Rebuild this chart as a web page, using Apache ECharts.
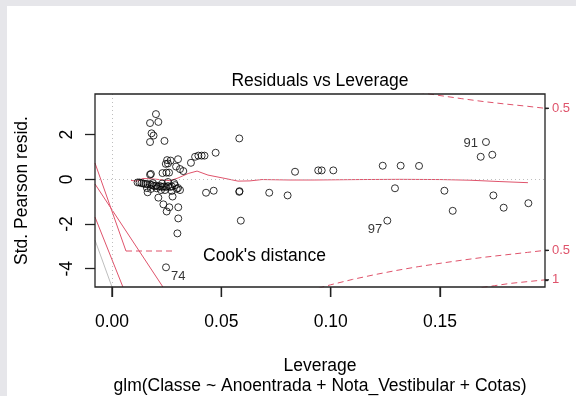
<!DOCTYPE html>
<html>
<head>
<meta charset="utf-8">
<script src="https://cdn.jsdelivr.net/npm/echarts@6/dist/echarts.min.js"></script>
<style>
html, body { margin: 0; padding: 0; background: #e6e6ea; overflow: hidden; }
#panel { position: absolute; left: 7px; top: 6px; width: 569px; height: 390px; background: #fff; }
#chart { position: absolute; left: 0; top: 0; width: 576px; height: 396px; }
</style>
</head>
<body>
<div id="panel"></div>
<div id="chart"></div>
<script>
// leverage (hat values) and standardized Pearson residuals
const leverage = [
  0.0201, 0.0174, 0.0212, 0.0181, 0.0190, 0.0174, 0.0240,
  0.0252, 0.0268, 0.0302, 0.0246, 0.0256, 0.0293, 0.0311, 0.0326, 0.0231, 0.0249, 0.0261, 0.0178, 0.0174,
  0.0361, 0.0380, 0.0395, 0.0410, 0.0423, 0.0474, 0.0582,
  0.0837, 0.0943, 0.0959, 0.1012, 0.1238, 0.1320, 0.1404, 0.1710, 0.1686, 0.1739,
  0.0430, 0.0465, 0.0582, 0.0583, 0.0719, 0.0803, 0.1294, 0.1520, 0.1558, 0.1744, 0.1791, 0.1904,
  0.0589, 0.1259, 0.0247,
  0.0163, 0.0212, 0.0235, 0.0262, 0.0303, 0.0250, 0.0303, 0.0299, 0.0273, 0.0296, 0.0242, 0.0204,
  0.0117, 0.0126, 0.0135, 0.0144, 0.0153, 0.0162, 0.0174, 0.0183, 0.0192, 0.0201, 0.0210, 0.0220,
  0.0229, 0.0238, 0.0247, 0.0256, 0.0265, 0.0274, 0.0288, 0.0302, 0.0160, 0.0178, 0.0224, 0.0187,
  0.0229, 0.0256, 0.0284, 0.0311, 0.0277
];
const stdResid = [
  2.92, 2.52, 2.57, 2.06, 1.96, 1.67, 1.72,
  0.86, 0.84, 0.90, 0.69, 0.71, 0.57, 0.46, 0.37, 0.28, 0.30, 0.30, 0.24, 0.21,
  0.74, 1.01, 1.06, 1.06, 1.06, 1.19, 1.83,
  0.34, 0.40, 0.40, 0.40, 0.61, 0.61, 0.60, 1.67, 1.01, 1.10,
  -0.60, -0.51, -0.56, -0.53, -0.60, -0.72, -0.40, -0.51, -1.41, -0.72, -1.27, -1.07,
  -1.85, -1.85, -3.94,
  -0.58, -0.82, -1.12, -1.25, -1.25, -1.44, -1.75, -2.42, -0.52, -0.43, -0.48, -0.40,
  -0.14, -0.14, -0.17, -0.19, -0.21, -0.21, -0.23, -0.26, -0.30, -0.28, -0.32, -0.30,
  -0.34, -0.32, -0.34, -0.30, -0.34, -0.32, -0.26, -0.39, -0.39, -0.43, -0.48, -0.17,
  -0.19, -0.12, -0.17, -0.48, -0.77
];
// labelled observations: index into the arrays above
const idIndex = [51, 34, 50];
const idText = ['74', '91', '97'];

// red smoother
const smoothH = [0.0087, 0.0114, 0.0142, 0.0197, 0.0265, 0.0302, 0.0348, 0.0389, 0.0439, 0.0517, 0.0576, 0.0631, 0.0686, 0.0814, 0.0928, 0.1134, 0.1317, 0.1500, 0.1637, 0.1774, 0.1902];
const smoothR = [-0.05, -0.08, 0.04, 0.01, -0.06, 0.06, 0.26, 0.37, 0.19, 0.04, -0.08, -0.07, -0.01, -0.03, -0.03, -0.01, 0.00, -0.01, -0.04, -0.10, -0.15];

// Cook's distance contours
const cookUpH = [0.14, 0.15, 0.16, 0.17, 0.18, 0.19, 0.198];
const cookUpR = [3.90, 3.75, 3.61, 3.48, 3.37, 3.27, 3.18];
const cookLowH = [0.09, 0.10, 0.11, 0.12, 0.13, 0.14, 0.15, 0.16, 0.17, 0.18, 0.19, 0.198];
const cookLowR = [-5.00, -4.72, -4.48, -4.27, -4.08, -3.91, -3.76, -3.62, -3.49, -3.38, -3.27, -3.18];
const cook1H = [0.160, 0.168, 0.175, 0.182, 0.190, 0.198];
const cook1R = [-5.00, -4.86, -4.76, -4.66, -4.58, -4.50];
const cookTicks = [3.18, -3.18, -4.50];
const cookLabels = ['0.5', '0.5', '1'];

// steep lines at the left edge
const edgeH = -0.00777;
const redStartR = [0.73, -0.21, -1.69];
const redEndH = [0.0064, 0.0233, 0.0050];
const redEndR = [-3.21, -4.82, -4.82];
const greyStartR = -2.72;
const greyEnd = [0.0, -4.82];

const xTicks = [0, 0.05, 0.10, 0.15];
const yTicks = [-4, -2, 0, 2];

const red = '#DF536B';
const font = 'Liberation Sans, Arial, sans-serif';

let chart = echarts.init(document.getElementById('chart'));

let pts = leverage.map((h, i) => {
  let item = { value: [h, stdResid[i]] };
  let k = idIndex.indexOf(i);
  if (k >= 0) {
    let left = h > 0.1;
    item.label = {
      show: true,
      formatter: idText[k],
      position: left ? 'left' : 'right',
      distance: k === 1 ? 4 : 1,
      offset: k === 1 ? [0, 1] : [0, 9],
      fontSize: 13,
      fontFamily: font,
      color: '#000'
    };
  }
  return item;
});

const pair = (hs, rs) => hs.map((h, i) => [h, rs[i]]);
const lineSeries = (data, color, type) => ({
  type: 'line',
  data: data,
  symbol: 'none',
  silent: true,
  clip: true,
  lineStyle: { color: color, width: 1, type: type || 'solid' },
  z: 3
});

let series = [
  lineSeries(pair(smoothH, smoothR), red),
  lineSeries(pair(cookUpH, cookUpR), red, [6, 4]),
  lineSeries(pair(cookLowH, cookLowR), red, [6, 4]),
  lineSeries(pair(cook1H, cook1R), red, [6, 4]),
  lineSeries([[edgeH, greyStartR], greyEnd], '#BEBEBE')
];
redStartR.forEach((r, i) => {
  series.push(lineSeries([[edgeH, r], [redEndH[i], redEndR[i]]], red));
});
series.push({
  type: 'scatter',
  data: pts,
  symbol: 'circle',
  symbolSize: 7,
  itemStyle: { color: 'rgba(0,0,0,0)', borderColor: '#000', borderWidth: 1 },
  z: 5,
  markLine: {
    silent: true,
    symbol: 'none',
    label: { show: false },
    lineStyle: { color: '#BEBEBE', type: [1, 3], width: 1 },
    data: [{ yAxis: 0 }, { xAxis: 0 }]
  }
});

const tickStyle = { color: '#222', width: 1.3 };

let option = {
  animation: false,
  backgroundColor: 'transparent',
  textStyle: { fontFamily: font },
  grid: {
    left: 95, right: 31, top: 94, bottom: 109,
    show: false
  },
  xAxis: {
    type: 'value',
    min: -0.00777,
    max: 0.198,
    name: 'Leverage',
    nameLocation: 'middle',
    nameGap: 70,
    nameTextStyle: { fontSize: 17.5, color: '#000', fontFamily: font },
    axisLine: { show: false, onZero: false },
    splitLine: { show: false },
    axisTick: { show: true, length: 10, customValues: xTicks, lineStyle: tickStyle },
    axisLabel: {
      customValues: xTicks,
      fontSize: 17.5, color: '#000', margin: 26, fontFamily: font,
      formatter: v => v.toFixed(2)
    }
  },
  yAxis: [{
    type: 'value',
    min: -4.82,
    max: 3.82,
    name: 'Std. Pearson resid.',
    nameLocation: 'middle',
    nameGap: 64,
    nameTextStyle: { fontSize: 17.5, color: '#000', fontFamily: font },
    axisLine: { show: false, onZero: false },
    splitLine: { show: false },
    axisTick: { show: true, length: 10, customValues: yTicks, lineStyle: tickStyle },
    axisLabel: {
      customValues: yTicks,
      rotate: 90,
      fontSize: 17.5, color: '#000', margin: 19, fontFamily: font
    }
  }, {
    type: 'value',
    position: 'right',
    min: -4.82,
    max: 3.82,
    axisLine: { show: false, onZero: false },
    splitLine: { show: false },
    axisTick: { show: true, length: 3, customValues: cookTicks, lineStyle: tickStyle },
    axisLabel: {
      customValues: cookTicks,
      fontSize: 13, color: red, margin: 7, fontFamily: font,
      formatter: v => {
        let best = 0;
        cookTicks.forEach((t, i) => { if (Math.abs(t - v) < Math.abs(cookTicks[best] - v)) best = i; });
        return cookLabels[best];
      }
    }
  }],
  graphic: [
    {
      // plot box
      type: 'rect', z: 10, silent: true,
      shape: { x: 95, y: 94, width: 450, height: 193 },
      style: { fill: null, stroke: '#222', lineWidth: 1.3 }
    },
    {
      type: 'text', x: 320, y: 81,
      style: { text: 'Residuals vs Leverage', fontSize: 17.5, fontFamily: font, fill: '#000', align: 'center', verticalAlign: 'middle' }
    },
    {
      type: 'text', x: 320, y: 386,
      style: { text: 'glm(Classe ~ Anoentrada + Nota_Vestibular + Cotas)', fontSize: 17.5, fontFamily: font, fill: '#000', align: 'center', verticalAlign: 'middle' }
    },
    {
      type: 'line',
      shape: { x1: 126, y1: 251, x2: 172, y2: 251 },
      style: { stroke: red, lineWidth: 1, lineDash: [6, 4] }
    },
    {
      type: 'text', x: 203, y: 256,
      style: { text: "Cook's distance", fontSize: 17.5, fontFamily: font, fill: '#000', align: 'left', verticalAlign: 'middle' }
    }
  ],
  series: series
};

chart.setOption(option);

// bottom and right tick marks, placed through the axes' own scales
const boxBottom = 287, boxRight = 545;
let extraTicks = [];
xTicks.forEach(v => {
  let px = chart.convertToPixel({ xAxisIndex: 0 }, v);
  extraTicks.push({
    type: 'line', z: 10, silent: true,
    shape: { x1: px, y1: boxBottom, x2: px, y2: boxBottom + 10 },
    style: { stroke: '#222', lineWidth: 1.3 }
  });
});
cookTicks.forEach(v => {
  let py = chart.convertToPixel({ yAxisIndex: 1 }, v);
  extraTicks.push({
    type: 'line', z: 10, silent: true,
    shape: { x1: boxRight, y1: py, x2: boxRight + 4, y2: py },
    style: { stroke: '#222', lineWidth: 1.3 }
  });
});
chart.setOption({ graphic: option.graphic.concat(extraTicks) });
</script>
</body>
</html>
